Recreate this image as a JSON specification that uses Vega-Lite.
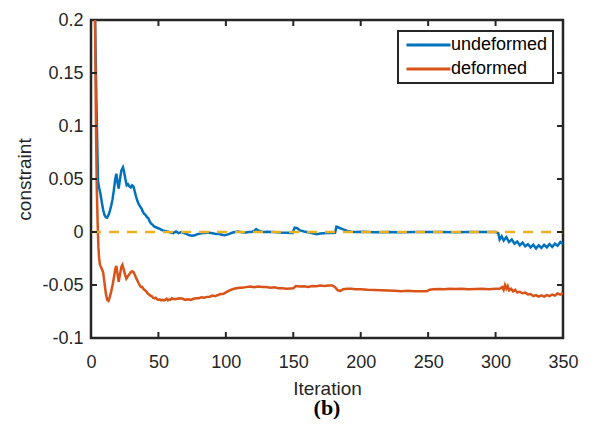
{
  "$schema": "https://vega.github.io/schema/vega-lite/v6.json",
  "autosize": "none",
  "width": 472,
  "height": 318,
  "padding": {"left": 91, "top": 20, "right": 28, "bottom": 89},
  "config": {
    "font": "Liberation Sans",
    "view": {"stroke": "#262626", "strokeWidth": 2.5},
    "axis": {
      "domain": false,
      "grid": false,
      "ticks": false,
      "tickSize": 0,
      "labelFlush": false,
      "labelFont": "Liberation Sans",
      "labelFontSize": 18,
      "labelColor": "#262626",
      "titleFont": "Liberation Sans",
      "titleFontSize": 19,
      "titleFontWeight": "normal",
      "titleColor": "#262626"
    }
  },
  "title": {
    "text": "(b)",
    "orient": "bottom",
    "anchor": "middle",
    "font": "Liberation Serif",
    "fontSize": 22,
    "fontWeight": "bold",
    "color": "#000000",
    "offset": 0
  },
  "datasets": {
    "zero": [{"it": 0, "it2": 350, "v": 0}],
    "xticks": [
      {"it": 50, "v": -0.1}, {"it": 100, "v": -0.1}, {"it": 150, "v": -0.1}, {"it": 200, "v": -0.1}, {"it": 250, "v": -0.1}, {"it": 300, "v": -0.1},
      {"it": 50, "v": 0.2}, {"it": 100, "v": 0.2}, {"it": 150, "v": 0.2}, {"it": 200, "v": 0.2}, {"it": 250, "v": 0.2}, {"it": 300, "v": 0.2}
    ],
    "yticks": [
      {"it": 0, "v": -0.05}, {"it": 0, "v": 0}, {"it": 0, "v": 0.05}, {"it": 0, "v": 0.1}, {"it": 0, "v": 0.15},
      {"it": 350, "v": -0.05}, {"it": 350, "v": 0}, {"it": 350, "v": 0.05}, {"it": 350, "v": 0.1}, {"it": 350, "v": 0.15}
    ],
    "curves": [
      {"it": 1, "v": 0.42, "s": "undeformed"},
      {"it": 2, "v": 0.3, "s": "undeformed"},
      {"it": 3, "v": 0.2, "s": "undeformed"},
      {"it": 4, "v": 0.125, "s": "undeformed"},
      {"it": 4.7, "v": 0.078, "s": "undeformed"},
      {"it": 5.2, "v": 0.048, "s": "undeformed"},
      {"it": 6, "v": 0.042, "s": "undeformed"},
      {"it": 7, "v": 0.036, "s": "undeformed"},
      {"it": 8, "v": 0.028, "s": "undeformed"},
      {"it": 9, "v": 0.021, "s": "undeformed"},
      {"it": 10, "v": 0.016, "s": "undeformed"},
      {"it": 11, "v": 0.014, "s": "undeformed"},
      {"it": 12, "v": 0.0135, "s": "undeformed"},
      {"it": 13, "v": 0.016, "s": "undeformed"},
      {"it": 14, "v": 0.02, "s": "undeformed"},
      {"it": 15, "v": 0.025, "s": "undeformed"},
      {"it": 16, "v": 0.031, "s": "undeformed"},
      {"it": 17, "v": 0.04, "s": "undeformed"},
      {"it": 18, "v": 0.05, "s": "undeformed"},
      {"it": 18.8, "v": 0.055, "s": "undeformed"},
      {"it": 19.5, "v": 0.048, "s": "undeformed"},
      {"it": 20.5, "v": 0.041, "s": "undeformed"},
      {"it": 21.5, "v": 0.05, "s": "undeformed"},
      {"it": 22.5, "v": 0.058, "s": "undeformed"},
      {"it": 23.7, "v": 0.061, "s": "undeformed"},
      {"it": 24.5, "v": 0.057, "s": "undeformed"},
      {"it": 25.5, "v": 0.05, "s": "undeformed"},
      {"it": 26.5, "v": 0.044, "s": "undeformed"},
      {"it": 27.5, "v": 0.045, "s": "undeformed"},
      {"it": 28.5, "v": 0.043, "s": "undeformed"},
      {"it": 29.5, "v": 0.042, "s": "undeformed"},
      {"it": 30.5, "v": 0.044, "s": "undeformed"},
      {"it": 31.5, "v": 0.043, "s": "undeformed"},
      {"it": 32.5, "v": 0.038, "s": "undeformed"},
      {"it": 33.5, "v": 0.033, "s": "undeformed"},
      {"it": 34.5, "v": 0.029, "s": "undeformed"},
      {"it": 35.5, "v": 0.026, "s": "undeformed"},
      {"it": 36.5, "v": 0.024, "s": "undeformed"},
      {"it": 37.5, "v": 0.022, "s": "undeformed"},
      {"it": 38.5, "v": 0.019, "s": "undeformed"},
      {"it": 39.5, "v": 0.017, "s": "undeformed"},
      {"it": 40.5, "v": 0.016, "s": "undeformed"},
      {"it": 41.5, "v": 0.014, "s": "undeformed"},
      {"it": 42.5, "v": 0.013, "s": "undeformed"},
      {"it": 43.5, "v": 0.01, "s": "undeformed"},
      {"it": 44.5, "v": 0.008, "s": "undeformed"},
      {"it": 45.5, "v": 0.007, "s": "undeformed"},
      {"it": 47, "v": 0.005, "s": "undeformed"},
      {"it": 49, "v": 0.004, "s": "undeformed"},
      {"it": 51, "v": 0.003, "s": "undeformed"},
      {"it": 53, "v": 0.0015, "s": "undeformed"},
      {"it": 55, "v": 0.001, "s": "undeformed"},
      {"it": 57, "v": 0.0003, "s": "undeformed"},
      {"it": 59, "v": -0.0005, "s": "undeformed"},
      {"it": 61, "v": -0.001, "s": "undeformed"},
      {"it": 63, "v": 0.0005, "s": "undeformed"},
      {"it": 65, "v": -0.001, "s": "undeformed"},
      {"it": 67, "v": 0, "s": "undeformed"},
      {"it": 69, "v": -0.001, "s": "undeformed"},
      {"it": 71, "v": -0.002, "s": "undeformed"},
      {"it": 73, "v": -0.003, "s": "undeformed"},
      {"it": 75, "v": -0.0035, "s": "undeformed"},
      {"it": 77, "v": -0.003, "s": "undeformed"},
      {"it": 79, "v": -0.002, "s": "undeformed"},
      {"it": 81, "v": -0.0015, "s": "undeformed"},
      {"it": 83, "v": -0.001, "s": "undeformed"},
      {"it": 85, "v": -0.001, "s": "undeformed"},
      {"it": 87, "v": -0.0005, "s": "undeformed"},
      {"it": 89, "v": -0.001, "s": "undeformed"},
      {"it": 91, "v": -0.0015, "s": "undeformed"},
      {"it": 93, "v": -0.002, "s": "undeformed"},
      {"it": 95, "v": -0.002, "s": "undeformed"},
      {"it": 97, "v": -0.0025, "s": "undeformed"},
      {"it": 99, "v": -0.003, "s": "undeformed"},
      {"it": 101, "v": -0.0025, "s": "undeformed"},
      {"it": 103, "v": -0.0015, "s": "undeformed"},
      {"it": 105, "v": -0.0005, "s": "undeformed"},
      {"it": 107, "v": 0, "s": "undeformed"},
      {"it": 109, "v": 0.0005, "s": "undeformed"},
      {"it": 111, "v": 0, "s": "undeformed"},
      {"it": 113, "v": -0.0005, "s": "undeformed"},
      {"it": 115, "v": -0.0005, "s": "undeformed"},
      {"it": 117, "v": 0, "s": "undeformed"},
      {"it": 119, "v": 0, "s": "undeformed"},
      {"it": 121, "v": 0.001, "s": "undeformed"},
      {"it": 122.5, "v": 0.0028, "s": "undeformed"},
      {"it": 124, "v": 0.0015, "s": "undeformed"},
      {"it": 126, "v": 0.0005, "s": "undeformed"},
      {"it": 128, "v": 0, "s": "undeformed"},
      {"it": 131, "v": 0.0002, "s": "undeformed"},
      {"it": 135, "v": 0, "s": "undeformed"},
      {"it": 140, "v": -0.0005, "s": "undeformed"},
      {"it": 145, "v": -0.0008, "s": "undeformed"},
      {"it": 149.5, "v": -0.001, "s": "undeformed"},
      {"it": 151, "v": 0.004, "s": "undeformed"},
      {"it": 153, "v": 0.0035, "s": "undeformed"},
      {"it": 155, "v": 0.0015, "s": "undeformed"},
      {"it": 158, "v": 0.0005, "s": "undeformed"},
      {"it": 162, "v": -0.0005, "s": "undeformed"},
      {"it": 165, "v": -0.0015, "s": "undeformed"},
      {"it": 167.5, "v": -0.002, "s": "undeformed"},
      {"it": 170, "v": -0.0015, "s": "undeformed"},
      {"it": 175, "v": -0.001, "s": "undeformed"},
      {"it": 178, "v": -0.001, "s": "undeformed"},
      {"it": 181, "v": -0.0008, "s": "undeformed"},
      {"it": 182, "v": 0.005, "s": "undeformed"},
      {"it": 184, "v": 0.004, "s": "undeformed"},
      {"it": 187, "v": 0.0025, "s": "undeformed"},
      {"it": 190, "v": 0.001, "s": "undeformed"},
      {"it": 193, "v": 0.0003, "s": "undeformed"},
      {"it": 196, "v": 0, "s": "undeformed"},
      {"it": 202, "v": 0.0002, "s": "undeformed"},
      {"it": 210, "v": -0.0002, "s": "undeformed"},
      {"it": 220, "v": 0.0001, "s": "undeformed"},
      {"it": 230, "v": -0.0002, "s": "undeformed"},
      {"it": 240, "v": 0.0001, "s": "undeformed"},
      {"it": 250, "v": -0.0001, "s": "undeformed"},
      {"it": 260, "v": 0.0001, "s": "undeformed"},
      {"it": 270, "v": -0.0002, "s": "undeformed"},
      {"it": 280, "v": 0, "s": "undeformed"},
      {"it": 290, "v": 0.0001, "s": "undeformed"},
      {"it": 300, "v": 0, "s": "undeformed"},
      {"it": 302, "v": -0.001, "s": "undeformed"},
      {"it": 303, "v": -0.007, "s": "undeformed"},
      {"it": 304.5, "v": -0.004, "s": "undeformed"},
      {"it": 306, "v": -0.008, "s": "undeformed"},
      {"it": 308, "v": -0.005, "s": "undeformed"},
      {"it": 310, "v": -0.0095, "s": "undeformed"},
      {"it": 312, "v": -0.007, "s": "undeformed"},
      {"it": 314, "v": -0.011, "s": "undeformed"},
      {"it": 316, "v": -0.009, "s": "undeformed"},
      {"it": 318, "v": -0.0125, "s": "undeformed"},
      {"it": 320, "v": -0.01, "s": "undeformed"},
      {"it": 322, "v": -0.0135, "s": "undeformed"},
      {"it": 324, "v": -0.0115, "s": "undeformed"},
      {"it": 326, "v": -0.0145, "s": "undeformed"},
      {"it": 328, "v": -0.012, "s": "undeformed"},
      {"it": 330, "v": -0.0155, "s": "undeformed"},
      {"it": 332, "v": -0.0125, "s": "undeformed"},
      {"it": 334, "v": -0.015, "s": "undeformed"},
      {"it": 336, "v": -0.012, "s": "undeformed"},
      {"it": 338, "v": -0.0145, "s": "undeformed"},
      {"it": 340, "v": -0.0115, "s": "undeformed"},
      {"it": 342, "v": -0.014, "s": "undeformed"},
      {"it": 344, "v": -0.011, "s": "undeformed"},
      {"it": 346, "v": -0.013, "s": "undeformed"},
      {"it": 348, "v": -0.0095, "s": "undeformed"},
      {"it": 350, "v": -0.0115, "s": "undeformed"},

      {"it": 1, "v": 0.42, "s": "deformed"},
      {"it": 2, "v": 0.3, "s": "deformed"},
      {"it": 3, "v": 0.2, "s": "deformed"},
      {"it": 3.7, "v": 0.1, "s": "deformed"},
      {"it": 4.3, "v": 0.04, "s": "deformed"},
      {"it": 5, "v": 0.005, "s": "deformed"},
      {"it": 5.5, "v": -0.015, "s": "deformed"},
      {"it": 6, "v": -0.024, "s": "deformed"},
      {"it": 6.5, "v": -0.03, "s": "deformed"},
      {"it": 7, "v": -0.032, "s": "deformed"},
      {"it": 8, "v": -0.035, "s": "deformed"},
      {"it": 9, "v": -0.038, "s": "deformed"},
      {"it": 10, "v": -0.048, "s": "deformed"},
      {"it": 11, "v": -0.058, "s": "deformed"},
      {"it": 12, "v": -0.064, "s": "deformed"},
      {"it": 13, "v": -0.065, "s": "deformed"},
      {"it": 14, "v": -0.061, "s": "deformed"},
      {"it": 15, "v": -0.056, "s": "deformed"},
      {"it": 16, "v": -0.05, "s": "deformed"},
      {"it": 17, "v": -0.043, "s": "deformed"},
      {"it": 18, "v": -0.035, "s": "deformed"},
      {"it": 18.8, "v": -0.032, "s": "deformed"},
      {"it": 19.7, "v": -0.04, "s": "deformed"},
      {"it": 20.5, "v": -0.047, "s": "deformed"},
      {"it": 21.5, "v": -0.04, "s": "deformed"},
      {"it": 22.5, "v": -0.033, "s": "deformed"},
      {"it": 23.3, "v": -0.031, "s": "deformed"},
      {"it": 24.2, "v": -0.035, "s": "deformed"},
      {"it": 25.2, "v": -0.04, "s": "deformed"},
      {"it": 26.2, "v": -0.044, "s": "deformed"},
      {"it": 27.2, "v": -0.042, "s": "deformed"},
      {"it": 28.3, "v": -0.04, "s": "deformed"},
      {"it": 29.5, "v": -0.038, "s": "deformed"},
      {"it": 30.6, "v": -0.037, "s": "deformed"},
      {"it": 31.6, "v": -0.038, "s": "deformed"},
      {"it": 32.7, "v": -0.041, "s": "deformed"},
      {"it": 33.7, "v": -0.044, "s": "deformed"},
      {"it": 34.8, "v": -0.047, "s": "deformed"},
      {"it": 36, "v": -0.05, "s": "deformed"},
      {"it": 37, "v": -0.052, "s": "deformed"},
      {"it": 38, "v": -0.052, "s": "deformed"},
      {"it": 39, "v": -0.054, "s": "deformed"},
      {"it": 40, "v": -0.055, "s": "deformed"},
      {"it": 41, "v": -0.056, "s": "deformed"},
      {"it": 42, "v": -0.058, "s": "deformed"},
      {"it": 43, "v": -0.059, "s": "deformed"},
      {"it": 44, "v": -0.06, "s": "deformed"},
      {"it": 45, "v": -0.0605, "s": "deformed"},
      {"it": 46, "v": -0.062, "s": "deformed"},
      {"it": 47, "v": -0.0626, "s": "deformed"},
      {"it": 48, "v": -0.062, "s": "deformed"},
      {"it": 49, "v": -0.0635, "s": "deformed"},
      {"it": 50, "v": -0.064, "s": "deformed"},
      {"it": 51, "v": -0.0635, "s": "deformed"},
      {"it": 52, "v": -0.0645, "s": "deformed"},
      {"it": 53, "v": -0.064, "s": "deformed"},
      {"it": 54, "v": -0.0645, "s": "deformed"},
      {"it": 55, "v": -0.064, "s": "deformed"},
      {"it": 56, "v": -0.063, "s": "deformed"},
      {"it": 57, "v": -0.0645, "s": "deformed"},
      {"it": 58, "v": -0.0635, "s": "deformed"},
      {"it": 59, "v": -0.064, "s": "deformed"},
      {"it": 60, "v": -0.0625, "s": "deformed"},
      {"it": 62, "v": -0.0635, "s": "deformed"},
      {"it": 64, "v": -0.063, "s": "deformed"},
      {"it": 66, "v": -0.0625, "s": "deformed"},
      {"it": 68, "v": -0.063, "s": "deformed"},
      {"it": 70, "v": -0.064, "s": "deformed"},
      {"it": 72, "v": -0.0635, "s": "deformed"},
      {"it": 74, "v": -0.064, "s": "deformed"},
      {"it": 76, "v": -0.063, "s": "deformed"},
      {"it": 78, "v": -0.0625, "s": "deformed"},
      {"it": 80, "v": -0.0625, "s": "deformed"},
      {"it": 82, "v": -0.0615, "s": "deformed"},
      {"it": 84, "v": -0.062, "s": "deformed"},
      {"it": 86, "v": -0.0612, "s": "deformed"},
      {"it": 88, "v": -0.061, "s": "deformed"},
      {"it": 90, "v": -0.06, "s": "deformed"},
      {"it": 92, "v": -0.0605, "s": "deformed"},
      {"it": 94, "v": -0.0595, "s": "deformed"},
      {"it": 96, "v": -0.0585, "s": "deformed"},
      {"it": 98, "v": -0.0585, "s": "deformed"},
      {"it": 100, "v": -0.057, "s": "deformed"},
      {"it": 102, "v": -0.0555, "s": "deformed"},
      {"it": 104, "v": -0.0545, "s": "deformed"},
      {"it": 106, "v": -0.0535, "s": "deformed"},
      {"it": 108, "v": -0.053, "s": "deformed"},
      {"it": 110, "v": -0.0525, "s": "deformed"},
      {"it": 112, "v": -0.0525, "s": "deformed"},
      {"it": 115, "v": -0.052, "s": "deformed"},
      {"it": 118, "v": -0.0515, "s": "deformed"},
      {"it": 121, "v": -0.052, "s": "deformed"},
      {"it": 124, "v": -0.0515, "s": "deformed"},
      {"it": 127, "v": -0.0518, "s": "deformed"},
      {"it": 130, "v": -0.052, "s": "deformed"},
      {"it": 133, "v": -0.0525, "s": "deformed"},
      {"it": 136, "v": -0.0522, "s": "deformed"},
      {"it": 139, "v": -0.053, "s": "deformed"},
      {"it": 142, "v": -0.053, "s": "deformed"},
      {"it": 145, "v": -0.0535, "s": "deformed"},
      {"it": 148, "v": -0.0532, "s": "deformed"},
      {"it": 150, "v": -0.053, "s": "deformed"},
      {"it": 152, "v": -0.051, "s": "deformed"},
      {"it": 155, "v": -0.0515, "s": "deformed"},
      {"it": 158, "v": -0.0512, "s": "deformed"},
      {"it": 161, "v": -0.0518, "s": "deformed"},
      {"it": 164, "v": -0.051, "s": "deformed"},
      {"it": 167, "v": -0.0512, "s": "deformed"},
      {"it": 170, "v": -0.0505, "s": "deformed"},
      {"it": 173, "v": -0.051, "s": "deformed"},
      {"it": 176, "v": -0.0505, "s": "deformed"},
      {"it": 179, "v": -0.0505, "s": "deformed"},
      {"it": 181, "v": -0.052, "s": "deformed"},
      {"it": 183, "v": -0.055, "s": "deformed"},
      {"it": 185, "v": -0.0555, "s": "deformed"},
      {"it": 187, "v": -0.054, "s": "deformed"},
      {"it": 190, "v": -0.0535, "s": "deformed"},
      {"it": 193, "v": -0.0535, "s": "deformed"},
      {"it": 196, "v": -0.054, "s": "deformed"},
      {"it": 200, "v": -0.054, "s": "deformed"},
      {"it": 205, "v": -0.0545, "s": "deformed"},
      {"it": 210, "v": -0.0548, "s": "deformed"},
      {"it": 215, "v": -0.055, "s": "deformed"},
      {"it": 220, "v": -0.0552, "s": "deformed"},
      {"it": 225, "v": -0.0555, "s": "deformed"},
      {"it": 230, "v": -0.0558, "s": "deformed"},
      {"it": 235, "v": -0.0555, "s": "deformed"},
      {"it": 240, "v": -0.056, "s": "deformed"},
      {"it": 245, "v": -0.0558, "s": "deformed"},
      {"it": 249, "v": -0.056, "s": "deformed"},
      {"it": 251, "v": -0.0545, "s": "deformed"},
      {"it": 254, "v": -0.054, "s": "deformed"},
      {"it": 258, "v": -0.0538, "s": "deformed"},
      {"it": 262, "v": -0.054, "s": "deformed"},
      {"it": 266, "v": -0.0535, "s": "deformed"},
      {"it": 270, "v": -0.0538, "s": "deformed"},
      {"it": 275, "v": -0.0535, "s": "deformed"},
      {"it": 280, "v": -0.054, "s": "deformed"},
      {"it": 285, "v": -0.0537, "s": "deformed"},
      {"it": 290, "v": -0.0535, "s": "deformed"},
      {"it": 295, "v": -0.054, "s": "deformed"},
      {"it": 300, "v": -0.0535, "s": "deformed"},
      {"it": 303, "v": -0.0535, "s": "deformed"},
      {"it": 305, "v": -0.052, "s": "deformed"},
      {"it": 306, "v": -0.0545, "s": "deformed"},
      {"it": 307, "v": -0.05, "s": "deformed"},
      {"it": 308, "v": -0.0535, "s": "deformed"},
      {"it": 309, "v": -0.051, "s": "deformed"},
      {"it": 310, "v": -0.055, "s": "deformed"},
      {"it": 311.5, "v": -0.0535, "s": "deformed"},
      {"it": 313, "v": -0.056, "s": "deformed"},
      {"it": 314.5, "v": -0.0545, "s": "deformed"},
      {"it": 316, "v": -0.057, "s": "deformed"},
      {"it": 318, "v": -0.0565, "s": "deformed"},
      {"it": 320, "v": -0.0578, "s": "deformed"},
      {"it": 322, "v": -0.0572, "s": "deformed"},
      {"it": 324, "v": -0.059, "s": "deformed"},
      {"it": 326, "v": -0.0585, "s": "deformed"},
      {"it": 328, "v": -0.0605, "s": "deformed"},
      {"it": 330, "v": -0.0595, "s": "deformed"},
      {"it": 332, "v": -0.061, "s": "deformed"},
      {"it": 334, "v": -0.0598, "s": "deformed"},
      {"it": 336, "v": -0.061, "s": "deformed"},
      {"it": 338, "v": -0.0595, "s": "deformed"},
      {"it": 340, "v": -0.0605, "s": "deformed"},
      {"it": 342, "v": -0.059, "s": "deformed"},
      {"it": 344, "v": -0.06, "s": "deformed"},
      {"it": 346, "v": -0.058, "s": "deformed"},
      {"it": 348, "v": -0.059, "s": "deformed"},
      {"it": 350, "v": -0.0575, "s": "deformed"}
    ]
  },
  "layer": [
    {
      "data": {"name": "curves"},
      "mark": {"type": "line", "strokeWidth": 2.5, "clip": true},
      "encoding": {
        "x": {
          "field": "it", "type": "quantitative", "title": "Iteration",
          "scale": {"domain": [0, 350], "nice": false, "zero": false},
          "axis": {"values": [0, 50, 100, 150, 200, 250, 300, 350], "labelPadding": 15, "titlePadding": 8}
        },
        "y": {
          "field": "v", "type": "quantitative", "title": "constraint",
          "scale": {"domain": [-0.1, 0.2], "nice": false, "zero": false},
          "axis": {"values": [-0.1, -0.05, 0, 0.05, 0.1, 0.15, 0.2], "labelExpr": "'' + datum.value", "labelPadding": 8, "titlePadding": 7}
        },
        "color": {
          "field": "s", "type": "nominal",
          "scale": {"domain": ["undeformed", "deformed"], "range": ["#0072BD", "#D95319"]},
          "legend": {
            "title": null,
            "orient": "none",
            "legendX": 307,
            "legendY": 11,
            "symbolType": "M-4,0H4",
            "symbolSize": 121,
            "symbolStrokeWidth": 3,
            "symbolOffset": 16.5,
            "labelOffset": 13.5,
            "labelFontSize": 18,
            "labelColor": "#000000",
            "strokeColor": "#262626",
            "fillColor": "white",
            "padding": 5,
            "rowPadding": 6,
            "encode": {"legend": {"update": {"strokeWidth": {"value": 2}}}}
          }
        },
        "order": {"field": "it", "type": "quantitative"}
      }
    },
    {
      "data": {"name": "zero"},
      "mark": {"type": "rule", "color": "#EDB120", "strokeWidth": 2.5, "strokeDash": [10, 8]},
      "encoding": {
        "x": {"field": "it", "type": "quantitative", "title": "Iteration"},
        "x2": {"field": "it2"},
        "y": {"field": "v", "type": "quantitative", "title": "constraint"}
      }
    },
    {
      "data": {"name": "xticks"},
      "mark": {"type": "tick", "orient": "vertical", "color": "#262626", "size": 12, "thickness": 2, "opacity": 1, "clip": true},
      "encoding": {
        "x": {"field": "it", "type": "quantitative", "title": "Iteration"},
        "y": {"field": "v", "type": "quantitative", "title": "constraint"}
      }
    },
    {
      "data": {"name": "yticks"},
      "mark": {"type": "tick", "orient": "horizontal", "color": "#262626", "size": 12, "thickness": 2, "opacity": 1, "clip": true},
      "encoding": {
        "x": {"field": "it", "type": "quantitative", "title": "Iteration"},
        "y": {"field": "v", "type": "quantitative", "title": "constraint"}
      }
    }
  ]
}
